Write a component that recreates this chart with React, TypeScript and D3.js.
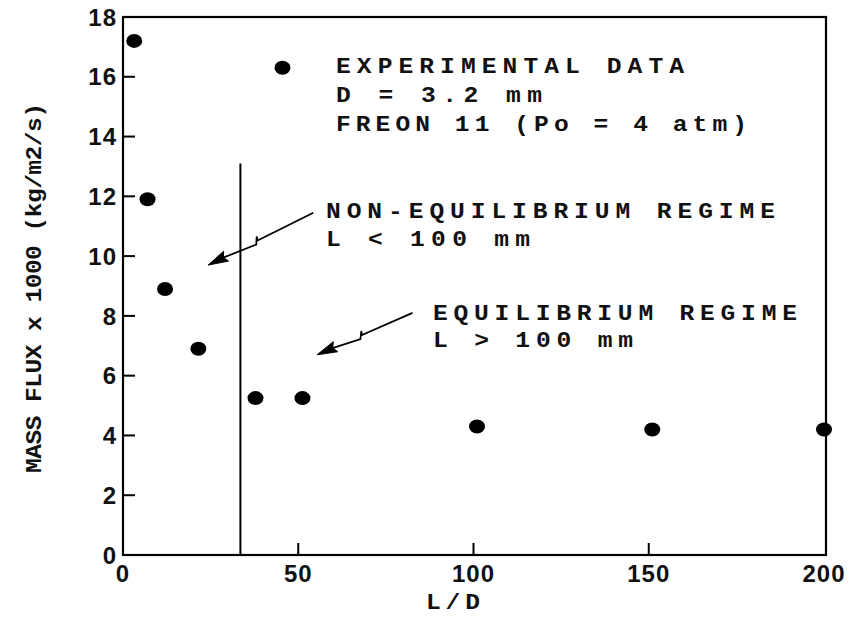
import React from "react";
import * as d3 from "d3";

const xVals = [3.2, 7, 12, 21.5, 37.8, 51.2, 101, 151, 200];
const yVals = [17.2, 11.9, 8.9, 6.9, 5.25, 5.25, 4.3, 4.2, 4.2];
const xTicks = [0, 50, 100, 150, 200];
const yTicks = [0, 2, 4, 6, 8, 10, 12, 14, 16, 18];
const legendPoint = { x: 45.5, y: 16.3 };
const dividerX = 33.5;
const dividerTop = 13.1;
const infoLines = ["EXPERIMENTAL DATA", "D = 3.2 mm", "FREON 11 (Po = 4 atm)"];
const nonEqLines = ["NON-EQUILIBRIUM REGIME", "L < 100 mm"];
const eqLines = ["EQUILIBRIUM REGIME", "L > 100 mm"];
const arrow1 = { from: [54.3, 11.45], to: [24.3, 9.7] };
const arrow2 = { from: [82.6, 8.1], to: [55.4, 6.7] };

const W = 850, H = 617;
const x = d3.scaleLinear().domain([0, 200]).range([123, 824]);
const y = d3.scaleLinear().domain([0, 18]).range([555, 17]);

const MONO = "'Liberation Mono', 'DejaVu Sans Mono', monospace";
const SANS = "'Liberation Sans', Arial, sans-serif";
const SX = 1.12;

function Arrow({ from, to }: { from: number[]; to: number[] }) {
  const x0 = x(from[0]), y0 = y(from[1]);
  const x1 = x(to[0]), y1 = y(to[1]);
  const dx = x1 - x0, dy = y1 - y0;
  const len = Math.hypot(dx, dy);
  const ux = dx / len, uy = dy / len;
  const nx = -uy, ny = ux;
  const mid = 0.53 * len;
  const ax = x0 + ux * mid, ay = y0 + uy * mid;
  const p1 = [ax + nx * 4 - ux * 1, ay + ny * 4 - uy * 1];
  const p2 = [ax - nx * 3 + ux * 3, ay - ny * 3 + uy * 3];
  const headLen = 20, headW = 5.5;
  const hb = [x1 - ux * headLen, y1 - uy * headLen];
  const path = d3.path();
  path.moveTo(x0, y0);
  path.lineTo(ax, ay);
  path.lineTo(p1[0], p1[1]);
  path.lineTo(p2[0], p2[1]);
  path.lineTo(hb[0] + ux * 4, hb[1] + uy * 4);
  const head = d3.path();
  head.moveTo(x1, y1);
  head.lineTo(hb[0] + nx * headW, hb[1] + ny * headW);
  head.lineTo(hb[0] + ux * 3, hb[1] + uy * 3);
  head.lineTo(hb[0] - nx * headW, hb[1] - ny * headW);
  head.closePath();
  return (
    <g>
      <path d={path.toString()} fill="none" stroke="#000" strokeWidth={1.8} strokeLinejoin="miter" />
      <path d={head.toString()} fill="#000" stroke="#000" strokeWidth={1} />
    </g>
  );
}

function MonoText({ t, px, py, len, rotate = false }: { t: string; px: number; py: number; len: number; rotate?: boolean }) {
  return (
    <text transform={`translate(${px},${py})${rotate ? " rotate(-90)" : ""} scale(${SX},1)`}
      x={0} y={0} textAnchor={rotate ? "middle" : "start"} fontFamily={MONO} fontSize={22} fontWeight="bold"
      textLength={len / SX} lengthAdjust="spacing" fill="#111">{t}</text>
  );
}

export default function App() {
  return (
    <svg width={W} height={H} style={{ position: "absolute", left: 0, top: 0, background: "#fff" }}
      xmlns="http://www.w3.org/2000/svg">
      <rect x={0} y={0} width={W} height={H} fill="#fff" />
      <rect x={x(0)} y={y(18)} width={x(200) - x(0) + 2} height={y(0) - y(18)} fill="none" stroke="#000" strokeWidth={2.2} />
      {yTicks.map((t) => (
        <g key={"y" + t}>
          {t > 0 && t < 18 && <line x1={x(0)} x2={x(0) + 12} y1={y(t)} y2={y(t)} stroke="#000" strokeWidth={2} />}
          <text x={x(0) - 6} y={y(t)} dy="0.36em" textAnchor="end" fontFamily={SANS} fontSize={24}
            fontWeight="bold" letterSpacing={1} fill="#111">{t}</text>
        </g>
      ))}
      {xTicks.map((t) => (
        <g key={"x" + t}>
          {t > 0 && t < 200 && <line x1={x(t)} x2={x(t)} y1={y(0)} y2={y(0) - 12} stroke="#000" strokeWidth={2} />}
          <text x={x(t)} y={y(0) + 27} textAnchor="middle" fontFamily={SANS} fontSize={24}
            fontWeight="bold" letterSpacing={1} fill="#111">{t}</text>
        </g>
      ))}
      <MonoText t="L/D" px={426} py={609} len={54} />
      <MonoText t="MASS FLUX x 1000 (kg/m2/s)" px={41} py={288} len={370} rotate />
      <line x1={x(dividerX)} x2={x(dividerX)} y1={y(dividerTop)} y2={y(0)} stroke="#000" strokeWidth={2} />
      {xVals.map((v, i) => (
        <ellipse key={i} cx={x(v)} cy={y(yVals[i])} rx={8} ry={7} fill="#000" />
      ))}
      <ellipse cx={x(legendPoint.x)} cy={y(legendPoint.y)} rx={8} ry={7} fill="#000" />
      <MonoText t={infoLines[0]} px={336} py={73} len={348} />
      <MonoText t={infoLines[1]} px={336} py={102} len={206} />
      <MonoText t={infoLines[2]} px={336} py={131} len={411} />
      <MonoText t={nonEqLines[0]} px={326} py={218} len={449} />
      <MonoText t={nonEqLines[1]} px={326} py={246} len={204} />
      <MonoText t={eqLines[0]} px={433} py={320} len={364} />
      <MonoText t={eqLines[1]} px={433} py={347} len={200} />
      <Arrow from={arrow1.from} to={arrow1.to} />
      <Arrow from={arrow2.from} to={arrow2.to} />
    </svg>
  );
}
